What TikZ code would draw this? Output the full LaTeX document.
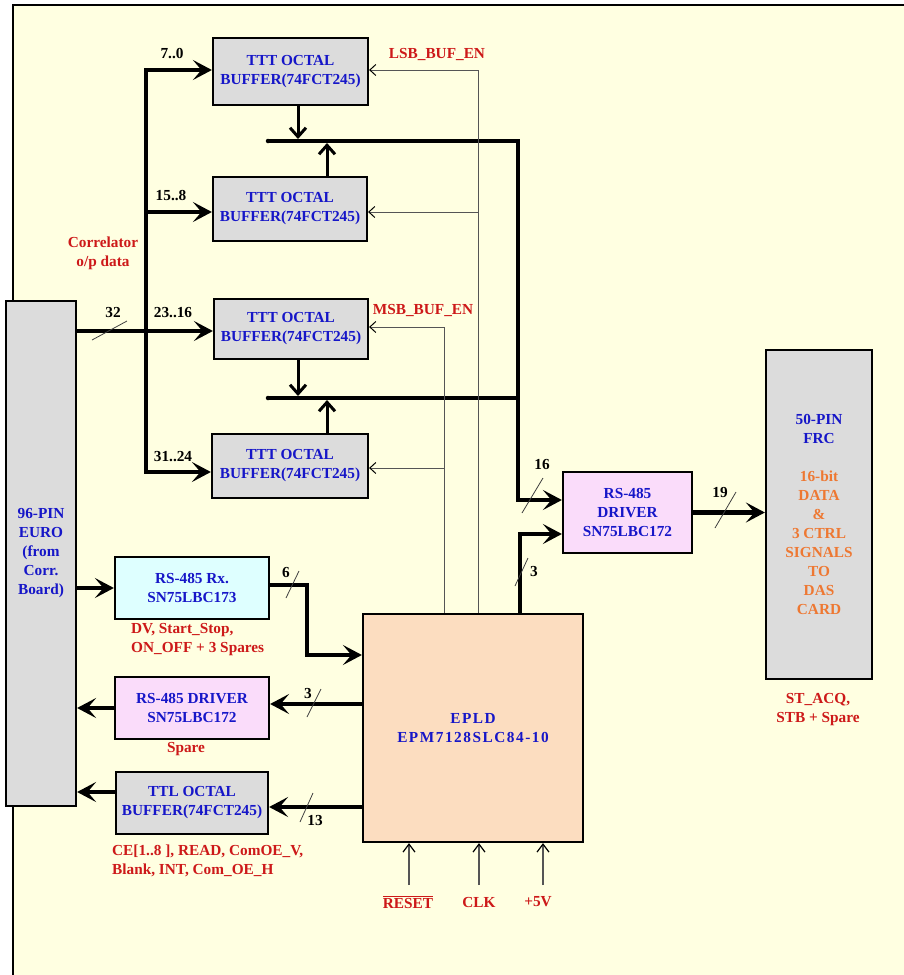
\documentclass[tikz,border=0pt]{standalone}
\usepackage{fontspec}
\setmainfont{Liberation Serif}
\usetikzlibrary{arrows.meta,calc}
\definecolor{bgY}{RGB}{255,255,225}
\definecolor{blueT}{RGB}{22,22,200}
\definecolor{redT}{RGB}{205,25,25}
\definecolor{orangeT}{RGB}{238,120,50}
\definecolor{grayF}{RGB}{220,220,220}
\definecolor{peachF}{RGB}{252,221,192}
\definecolor{cyanF}{RGB}{222,255,255}
\definecolor{pinkF}{RGB}{250,220,250}
\definecolor{lineGray}{RGB}{85,85,85}
\newcommand\dgmfont{\fontsize{15.3}{19}\selectfont\bfseries}
\begin{document}
\begin{tikzpicture}[x=1pt,y=-1pt,
  box/.style={draw=black, line width=2.2pt, inner sep=0pt, align=center, font=\dgmfont, text=blueT},
  lbl/.style={font=\dgmfont, inner sep=0pt, align=center},
  redlbl/.style={lbl, text=redT},
  numlbl/.style={lbl, text=black},
  bus/.style={line width=4.5pt, line join=miter},
  bigtip/.style={-{Stealth[length=19pt,width=20pt,inset=8.5pt]}},
  medarr/.style={line width=3pt, -{Straight Barb[length=9pt,width=16pt]}},
  enline/.style={line width=1pt, draw=lineGray, -{Straight Barb[length=6pt,width=11pt,color=black]}},
  pinarr/.style={line width=1.2pt, draw=lineGray, -{Straight Barb[length=8pt,width=12pt,color=black]}},
  slash/.style={line width=0.8pt, draw=black!75}
]
\useasboundingbox (0,0) rectangle (904,975);
\fill[white] (0,0) rectangle (904,975);
\fill[bgY] (13,5) rectangle (904,975);
\draw[line width=2.5pt] (904,5) -- (13,5) -- (13,975);

% nodes
\node[box, fill=grayF, minimum width=155, minimum height=67] (b1) at (290.5,71.5) {TTT OCTAL\\BUFFER(74FCT245)};
\node[box, fill=grayF, minimum width=154, minimum height=64] (b2) at (290,209) {TTT OCTAL\\BUFFER(74FCT245)};
\node[box, fill=grayF, minimum width=154, minimum height=60] (b3) at (291,329) {TTT OCTAL\\BUFFER(74FCT245)};
\node[box, fill=grayF, minimum width=156, minimum height=64] (b4) at (290,466) {TTT OCTAL\\BUFFER(74FCT245)};
\node[box, fill=grayF, minimum width=70, minimum height=505] (euro) at (41,553.5) {96-PIN\\EURO\\(from\\Corr.\\Board)};
\node[box, fill=cyanF, minimum width=154, minimum height=62] (rx) at (192,588) {RS-485 Rx.\\SN75LBC173};
\node[box, fill=pinkF, minimum width=154, minimum height=62] (drvL) at (192,708) {RS-485 DRIVER\\SN75LBC172};
\node[box, fill=grayF, minimum width=152, minimum height=62] (ttl) at (192,803) {TTL OCTAL\\BUFFER(74FCT245)};
\node[box, fill=peachF, minimum width=220, minimum height=228] (epld) at (473,728) {\addfontfeatures{LetterSpace=10}EPLD\\\addfontfeatures{LetterSpace=10}EPM7128SLC84-10};
\node[box, fill=pinkF, minimum width=129, minimum height=81] (drvR) at (627.5,512.5) {RS-485\\DRIVER\\SN75LBC172};
\node[box, fill=grayF, minimum width=106, minimum height=329] (frc) at (819,514.5) {50-PIN\\FRC\\[19pt]\textcolor{orangeT}{16-bit}\\\textcolor{orangeT}{DATA}\\\textcolor{orangeT}{\&}\\\textcolor{orangeT}{3 CTRL}\\\textcolor{orangeT}{SIGNALS}\\\textcolor{orangeT}{TO}\\\textcolor{orangeT}{DAS}\\\textcolor{orangeT}{CARD}};

% input data bus
\coordinate (v1) at (146,70);
\coordinate (v2) at (146,212);
\coordinate (v3) at (146,331);
\coordinate (v4) at (146,472);
\draw[bus,{Stealth[length=19pt,width=20pt,inset=8.5pt]}-{Stealth[length=19pt,width=20pt,inset=8.5pt]}] (v4 -| b4.west) -- (v4) -- (v1) -- (v1 -| b1.west);
\draw[bus,bigtip] (v2) -- (v2 -| b2.west);
\draw[bus,bigtip] (euro.east |- v3) -- (v3 -| b3.west);

% output buses
\coordinate (h1L) at (268,141);
\coordinate (h1R) at (518,141);
\coordinate (h2L) at (268,398);
\coordinate (h2R) at (518,398);
\coordinate (h1d) at (518,500);
\draw[bus,bigtip] (h1L) -- (h1R) -- (h1d) -- (h1d -| drvR.west);
\draw[bus] (h2L) -- (h2R);
\fill (h1L) circle (2.25pt);
\fill (h2L) circle (2.25pt);

\coordinate (m1) at (298,139);
\coordinate (m2) at (327,143);
\coordinate (m3) at (298,396);
\coordinate (m4) at (327,400);
\draw[medarr] (b1.south -| m1) -- (m1);
\draw[medarr] (b2.north -| m2) -- (m2);
\draw[medarr] (b3.south -| m3) -- (m3);
\draw[medarr] (b4.north -| m4) -- (m4);

% enables
\coordinate (lsb1) at (478,70);
\coordinate (lsb2) at (478,212);
\coordinate (msb1) at (444,327);
\coordinate (msb2) at (444,468);
\draw[enline] (epld.north -| lsb1) -- (lsb1) -- (lsb1 -| b1.east);
\draw[enline] (lsb2) -- (lsb2 -| b2.east);
\draw[enline] (epld.north -| msb1) -- (msb1) -- (msb1 -| b3.east);
\draw[enline] (msb2) -- (msb2 -| b4.east);

% left side
\draw[bus,bigtip] (euro.east |- rx.west) -- (rx.west);
\coordinate (s6a) at (307,585);
\coordinate (s6b) at (307,655);
\draw[bus,bigtip] (rx.east |- s6a) -- (s6a) -- (s6b) -- (s6b -| epld.west);
\coordinate (s3) at (330,704);
\draw[bus,bigtip] (epld.west |- s3) -- (drvL.east |- s3);
\draw[bus,bigtip] (drvL.west) -- (euro.east |- drvL.west);
\coordinate (s13) at (330,807);
\draw[bus,bigtip] (epld.west |- s13) -- (ttl.east |- s13);
\coordinate (t0) at (96,792);
\draw[bus,bigtip] (ttl.west |- t0) -- (euro.east |- t0);

% right side
\coordinate (r3) at (520,534);
\draw[bus,bigtip] (epld.north -| r3) -- (r3) -- (r3 -| drvR.west);
\draw[bus,bigtip] (drvR.east) -- (frc.west |- drvR.east);

% bottom pins
\coordinate (pr) at (409,885);
\coordinate (pc) at (479,885);
\coordinate (pv) at (543,885);
\draw[pinarr] (pr) -- (pr |- epld.south);
\draw[pinarr] (pc) -- (pc |- epld.south);
\draw[pinarr] (pv) -- (pv |- epld.south);

% slashes
\draw[slash] (92,340) -- (127,321);
\draw[slash] (522,513) -- (543,478);
\draw[slash] (515,586) -- (528,558);
\draw[slash] (715,528) -- (736,492);
\draw[slash] (286,598) -- (299,571);
\draw[slash] (307,717) -- (321,689);
\draw[slash] (300,822) -- (313,793);

% labels
\node[numlbl] (l70) at (172,54) {7..0};
\node[numlbl] (l158) at (171,196) {15..8};
\node[numlbl] (l2316) at (173,313) {23..16};
\node[numlbl] (l3124) at (173,457) {31..24};
\node[numlbl] (l32) at (113,313) {32};
\node[numlbl] (l16) at (542,465) {16};
\node[numlbl] (l3r) at (534,572) {3};
\node[numlbl] (l19) at (720,493) {19};
\node[numlbl] (l6) at (286,573) {6};
\node[numlbl] (l3l) at (308,693) {3};
\node[numlbl] (l13) at (315,820) {13};
\node[redlbl] (corr) at (103,253.5) {Correlator\\o/p data};
\node[redlbl] (lsb) at (437,54) {LSB\_BUF\_EN};
\node[redlbl] (msb) at (423,310) {MSB\_BUF\_EN};
\node[redlbl, anchor=west, align=left] (rxl) at (131,639.5) {DV, Start\_Stop,\\ON\_OFF + 3 Spares};
\node[redlbl] (spare) at (186,749) {Spare};
\node[redlbl, anchor=west, align=left] (ttll) at (112,860.5) {CE[1..8 ], READ, ComOE\_V,\\Blank, INT, Com\_OE\_H};
\node[redlbl] (stacq) at (818,710) {ST\_ACQ,\\STB + Spare};
\node[redlbl] (rst) at (408,902) {$\overline{\mbox{RESET}}$};
\node[redlbl] (clk) at (479,902) {CLK};
\node[redlbl] (p5v) at (538,902) {+5V};
\end{tikzpicture}
\end{document}
